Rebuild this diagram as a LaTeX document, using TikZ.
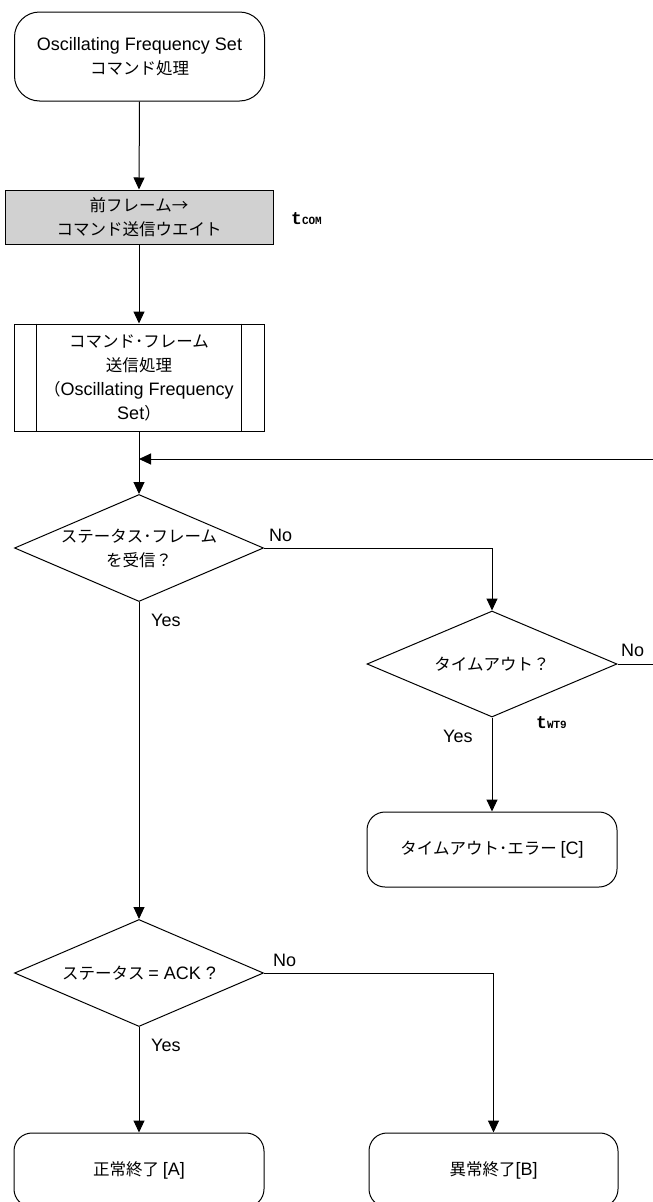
\documentclass[tikz,border=0pt]{standalone}
\usepackage{fontspec}
\setmainfont{Liberation Sans}
\newfontfamily\jp{Noto Sans CJK JP}
\newfontfamily\monof{Liberation Mono}
\usetikzlibrary{shapes.geometric,arrows.meta}
\newcommand{\lt}[1]{{\fontsize{18}{24}\selectfont\rmfamily #1}}
\newcommand{\tsub}[2]{{\monof\bfseries\fontsize{18}{18}\selectfont #1{\fontsize{11}{11}\selectfont #2}}}
\tikzset{
  line/.style={line width=1pt},
  arr/.style={line width=1pt,-{Triangle[length=12pt,width=11pt]}},
  txt/.style={font=\fontsize{16.5}{24}\selectfont\jp, align=center},
  term/.style={txt, draw, line width=1pt, rounded corners=18pt, inner sep=0pt},
  proc/.style={txt, draw, line width=1pt, inner sep=0pt},
  decide/.style={txt, draw, line width=1pt, shape=diamond, inner sep=0pt, aspect=2.33, minimum width=249pt, minimum height=107pt},
  yn/.style={font=\fontsize{18}{20}\selectfont, inner sep=0pt, anchor=west},
  tlab/.style={inner sep=0pt, anchor=west}
}
\begin{document}
\begin{tikzpicture}[x=1pt,y=-1pt]
\useasboundingbox (0,0) rectangle (653,1202);
\node[term, rounded corners=25pt, minimum width=250pt, minimum height=89pt] (start) at (139.5,56.5)
  {\lt{Oscillating Frequency Set}\\コマンド処理};
\node[proc, fill=black!18, minimum width=268pt, minimum height=54pt] (wait) at (139,217)
  {前フレーム→\\コマンド送信ウエイト};
\node[tlab] (tcom) at (291,219) {\tsub{t}{COM}};
\node[proc, minimum width=250pt, minimum height=107pt] (sub) at (139,377.5)
  {コマンド･フレーム\\送信処理\\（\lt{Oscillating Frequency}\\\lt{Set}）};
\draw[line] ([xshift=23pt]sub.north west) -- ([xshift=23pt]sub.south west);
\draw[line] ([xshift=-23pt]sub.north east) -- ([xshift=-23pt]sub.south east);
\node[decide] (d1) at (139,548) {ステータス･フレーム\\を受信？};
\node[decide, minimum width=250pt, minimum height=106pt] (d2) at (492,664) {タイムアウト？};
\node[term, minimum width=250pt, minimum height=75pt] (terr) at (492,849.5) {タイムアウト･エラー \lt{[C]}};
\node[decide] (d3) at (139,973) {ステータス \lt{= ACK ?}};
\node[term, minimum width=250pt, minimum height=74pt] (endA) at (139,1170) {正常終了 \lt{[A]}};
\node[term, minimum width=249pt, minimum height=74pt] (endB) at (493.5,1170) {異常終了\lt{[B]}};
\coordinate (merge) at (139,459);
\coordinate (loopR) at (657,459);
\node[yn] (no1) at (269,535) {No};
\node[yn] (yes1) at (151,620) {Yes};
\node[yn] (no2) at (621,650) {No};
\node[yn] (yes2) at (443,736) {Yes};
\node[tlab] (twt) at (536,723) {\tsub{t}{WT9}};
\node[yn] (no3) at (273,960) {No};
\node[yn] (yes3) at (151,1045) {Yes};
\draw[arr] (start.south) -- (wait.north);
\draw[arr] (wait.south) -- (sub.north);
\draw[arr] (sub.south) -- (d1.north);
\draw[arr] (d2.east) -| (loopR) -- (merge);
\draw[arr] (d1.east) -| (d2.north);
\draw[arr] (d2.south) -- (terr.north);
\draw[arr] (d1.south) -- (d3.north);
\draw[arr] (d3.south) -- (endA.north);
\draw[arr] (d3.east) -| (endB.north);
\end{tikzpicture}
\end{document}
